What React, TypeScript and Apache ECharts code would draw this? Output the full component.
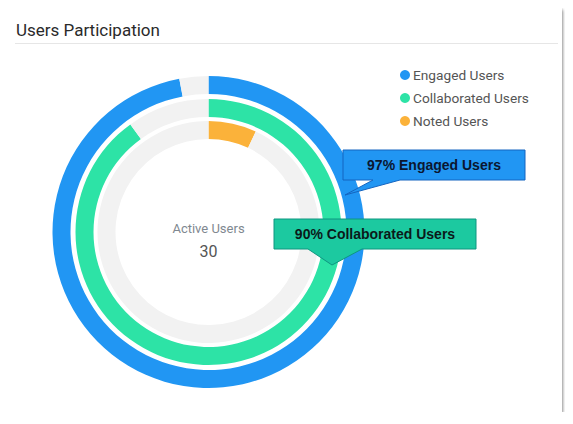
import { useEffect, useRef } from 'react';
import * as echarts from 'echarts';

// ring series, outer to inner
const seriesNames = ['Engaged Users', 'Collaborated Users', 'Noted Users'];
const percentages = [97, 90, 7];
const ringColors = ['#2196f3', '#2de3a6', '#fbb23a'];
const ringRadii: [number, number][] = [
  [138, 156],
  [115, 133],
  [93, 111],
];
const centerLabel = 'Active Users';
const activeUsers = 30;

const TRACK = '#f2f2f2';
const FONT = 'Roboto, "Noto Sans", sans-serif';
const CALLOUT_FONT = '"Liberation Sans", Arial, sans-serif';

export default function App() {
  const ref = useRef<HTMLDivElement>(null);

  useEffect(() => {
    if (!ref.current) return;
    const chart = echarts.init(ref.current, null, { renderer: 'svg' });

    const center = [200.5, 224];

    const series = seriesNames.map((name, i) => ({
      type: 'pie',
      name: 'ring' + i,
      radius: ringRadii[i],
      center,
      startAngle: 90,
      clockwise: true,
      silent: true,
      label: { show: false },
      labelLine: { show: false },
      emphasis: { disabled: true },
      data: [
        { name, value: percentages[i], itemStyle: { color: ringColors[i] } },
        { name: name + ' rest', value: 100 - percentages[i], itemStyle: { color: TRACK } },
      ],
    }));

    chart.setOption({
      animation: false,
      backgroundColor: '#fff',
      title: {
        text: 'Users Participation',
        left: 8,
        top: 13,
        padding: 0,
        textStyle: { fontFamily: FONT, fontSize: 17, fontWeight: 'normal', color: '#2a2a2a' },
      },
      legend: {
        data: seriesNames,
        orient: 'vertical',
        left: 387,
        top: 55,
        icon: 'circle',
        itemWidth: 10,
        itemHeight: 10,
        itemGap: 9,
        selectedMode: false,
        textStyle: { fontFamily: FONT, fontSize: 13.7, color: '#555', padding: [0, 0, 0, -2] },
      },
      series,
      graphic: [
        {
          type: 'line',
          shape: { x1: 7, y1: 35.5, x2: 550, y2: 35.5 },
          style: { stroke: '#e6e6e6', lineWidth: 1 },
        },
        {
          type: 'text',
          x: center[0],
          y: center[1] - 4,
          style: {
            text: centerLabel,
            fontFamily: FONT,
            fontSize: 13,
            fill: '#808890',
            align: 'center',
            verticalAlign: 'middle',
          },
        },
        {
          type: 'text',
          x: center[0],
          y: center[1] + 19,
          style: {
            text: String(activeUsers),
            fontFamily: FONT,
            fontSize: 16,
            fill: '#555',
            align: 'center',
            verticalAlign: 'middle',
          },
        },
        // callout: engaged
        {
          type: 'polygon',
          z: 100,
          shape: {
            points: [
              [335, 142], [517, 142], [517, 172], [392, 172], [337, 187], [365, 172], [335, 172],
            ],
          },
          style: { fill: '#2196f3', stroke: '#1565c0', lineWidth: 1 },
        },
        {
          type: 'text',
          z: 101,
          x: 426,
          y: 157,
          style: {
            text: `${percentages[0]}% ${seriesNames[0]}`,
            fontFamily: CALLOUT_FONT,
            fontSize: 14,
            fontWeight: 'bold',
            fill: '#0b1630',
            align: 'center',
            verticalAlign: 'middle',
          },
        },
        // callout: collaborated
        {
          type: 'polygon',
          z: 100,
          shape: {
            points: [
              [266, 211], [468, 211], [468, 241], [354, 241], [324, 257], [300, 241], [266, 241],
            ],
          },
          style: { fill: '#1cc9a0', stroke: '#0f9680', lineWidth: 1 },
        },
        {
          type: 'text',
          z: 101,
          x: 367,
          y: 226,
          style: {
            text: `${percentages[1]}% ${seriesNames[1]}`,
            fontFamily: CALLOUT_FONT,
            fontSize: 14,
            fontWeight: 'bold',
            fill: '#0b1a1a',
            align: 'center',
            verticalAlign: 'middle',
          },
        },
      ],
    });

    return () => chart.dispose();
  }, []);

  return (
    <div
      style={{
        width: 554,
        height: 404,
        background: '#fff',
        boxShadow: '0 0 2px rgba(0,0,0,0.15), 1px 2px 3px rgba(0,0,0,0.4)',
      }}
    >
      <div ref={ref} style={{ width: 554, height: 404 }} />
    </div>
  );
}
